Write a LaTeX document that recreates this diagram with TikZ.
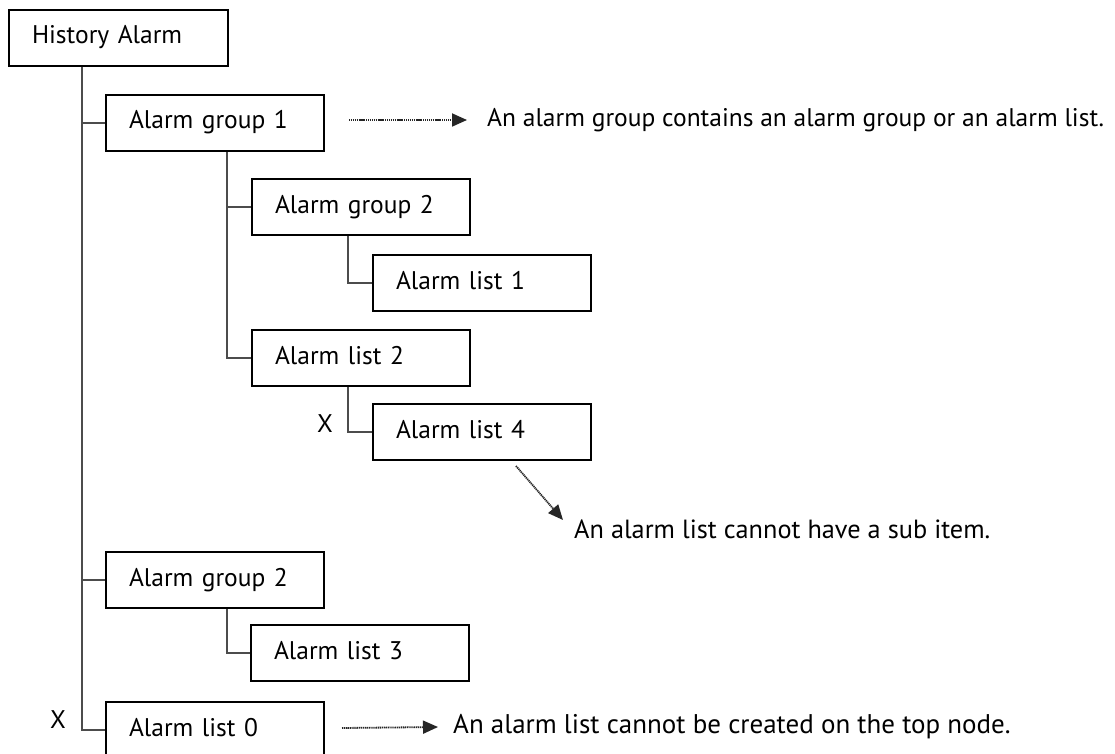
\documentclass[tikz,border=0pt]{standalone}
\usepackage{fontspec}
\setmainfont{PT Sans}
\usetikzlibrary{arrows.meta,calc}
\begin{document}
\begin{tikzpicture}[x=1pt,y=-1pt,
  txt/.style={font=\fontsize{25.5}{30}\selectfont},
  box/.style={txt, draw=black, line width=2pt, minimum height=56pt,
    text width=172pt, inner xsep=23pt, inner ysep=0pt, align=left,
    anchor=north west, text height=18pt, text depth=6pt},
  conn/.style={draw=black!70, line width=2.6pt},
  note/.style={draw=black!85, line width=1.8pt, dash pattern=on 1.2pt off 0.7pt,
    -{Triangle[length=15pt,width=13pt]}},
  notetext/.style={txt, inner ysep=0pt, anchor=west}
]
\useasboundingbox (0,0) rectangle (1115,754);
\fill[white] (0,0) rectangle (1115,754);

% boxes
\node[box, text width=173pt] (ha) at (8,9) {History Alarm};
\node[box] (g1)  at (105,94)  {Alarm group 1};
\node[box] (g2a) at (251,178) {Alarm group 2};
\node[box] (l1)  at (372,254) {Alarm list 1};
\node[box] (l2)  at (251,329) {Alarm list 2};
\node[box] (l4)  at (372,403) {Alarm list 4};
\node[box] (g2b) at (105,551) {Alarm group 2};
\node[box] (l3)  at (250,624) {Alarm list 3};
\node[box] (l0)  at (105,701) {Alarm list 0};

% tree connectors
\coordinate (t0) at ($(ha.south west)+(74,0)$);
\coordinate (t1) at ($(g1.south west)+(122,0)$);
\coordinate (t2) at ($(g2a.south west)+(97,0)$);
\coordinate (t3) at ($(l2.south west)+(97,0)$);
\coordinate (t4) at ($(g2b.south west)+(122,0)$);
\draw[conn] (t0) |- (l0.west);
\draw[conn] (g1.west -| t0) -- (g1.west);
\draw[conn] (g2b.west -| t0) -- (g2b.west);
\draw[conn] (t1) |- (l2.west);
\draw[conn] (g2a.west -| t1) -- (g2a.west);
\draw[conn] (t2) |- (l1.west);
\draw[conn] (t3) |- (l4.west);
\draw[conn] (t4) |- (l3.west);

% X marks
\node[txt] (x1) at (325,424) {X};
\node[txt] (x2) at (58,720) {X};

% notes
\node[notetext, inner xsep=20pt] (n1) at (467,120) {An alarm group contains an alarm group or an alarm list.};
\coordinate (a1) at ($(g1.east)+(24,-3)$);
\draw[note] (a1) -- (n1.west);

\node[notetext, inner xsep=0pt, font=\fontsize{26.3}{30}\selectfont] (n2) at (574,529) {An alarm list cannot have a sub item.};
\coordinate (a2) at ($(l4.south)+(34,5)$);
\coordinate (a2e) at ($(n2.west)+(-11,-9)$);
\draw[note] (a2) -- (a2e);

\node[notetext, inner xsep=15pt, font=\fontsize{27}{30}\selectfont] (n3) at (438,727) {An alarm list cannot be created on the top node.};
\coordinate (a3) at ($(l0.east)+(17,-2)$);
\draw[note] (a3) -- (n3.west);
\end{tikzpicture}
\end{document}
